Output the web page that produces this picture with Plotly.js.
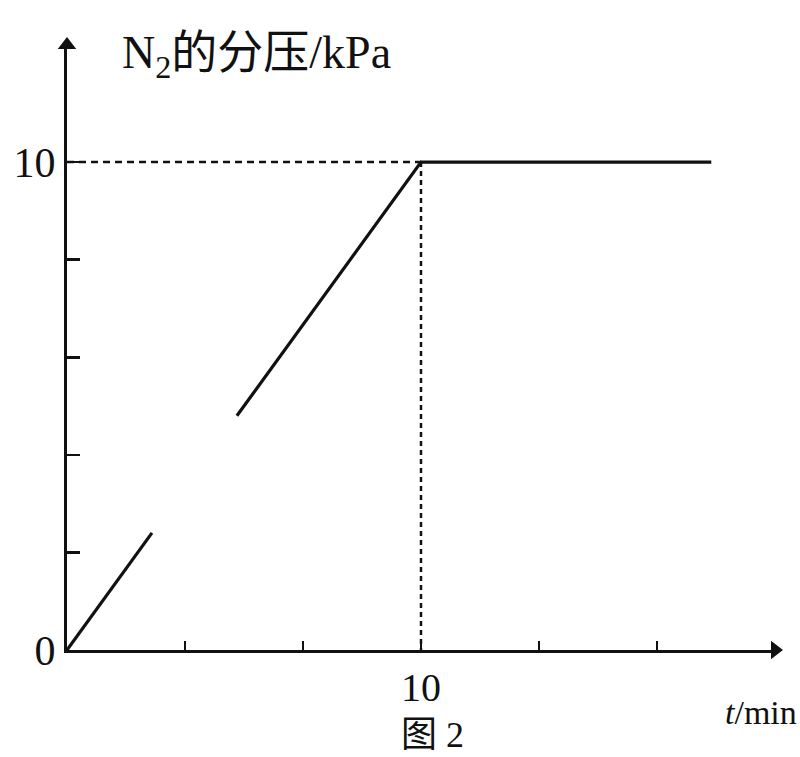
<!DOCTYPE html>
<html>
<head>
<meta charset="utf-8">
<script src="https://cdn.plot.ly/plotly-3.0.1.min.js"></script>
<style>html,body{margin:0;padding:0;background:#fff;}</style>
</head>
<body>
<div id="chart" style="width:800px;height:757px;"></div>
<script>
// Data
const seg1_t = [0, 2.4];
const seg1_p = [0, 2.4];
const seg2_t = [4.8, 10, 18.2];
const seg2_p = [4.8, 10, 10];
const guide_t = 10;
const guide_p = 10;
const x_tickvals = [10];
const x_ticktext = ['10'];
const x_minorvals = [10/3, 20/3, 40/3, 50/3];
const y_tickvals = [0, 10];
const y_ticktext = ['0', '10'];
const y_minorvals = [2, 4, 6, 8];
const x_max = 20;
const y_max = 12.4;

const serif = 'Liberation Serif, Times New Roman, Noto Sans CJK SC, serif';
const ink = '#111';

const traces = [
  {x: seg1_t, y: seg1_p, mode: 'lines', line: {color: ink, width: 3.2}, hoverinfo: 'skip'},
  {x: seg2_t, y: seg2_p, mode: 'lines', line: {color: ink, width: 3.2}, hoverinfo: 'skip'},
  {x: [0, guide_t], y: [guide_p, guide_p], mode: 'lines', line: {color: ink, width: 2.5, dash: '7px,5px'}, hoverinfo: 'skip'},
  {x: [guide_t, guide_t], y: [guide_p, 0], mode: 'lines', line: {color: ink, width: 2.5, dash: '5px,4px'}, hoverinfo: 'skip'},
  // axis arrowheads at the ends of the axes
  {x: [0, x_max], y: [y_max, 0], mode: 'markers', cliponaxis: false, hoverinfo: 'skip',
   marker: {symbol: ['triangle-up', 'triangle-right'], size: 16, color: ink, line: {width: 0}}}
];

const layout = {
  width: 800, height: 757,
  margin: {l: 67, r: 25, t: 45, b: 107},
  paper_bgcolor: '#fff', plot_bgcolor: '#fff',
  showlegend: false,
  font: {family: serif, color: ink, size: 30},
  xaxis: {
    range: [0, x_max], showgrid: false, zeroline: false,
    showline: true, linecolor: ink, linewidth: 3,
    ticks: 'inside', ticklen: 9, tickwidth: 2.5, tickcolor: ink,
    tickmode: 'array', tickvals: x_tickvals, ticktext: x_ticktext,
    minor: {tickmode: 'array', tickvals: x_minorvals, ticks: 'inside', ticklen: 9, tickwidth: 2.5, tickcolor: ink, showgrid: false},
    tickfont: {family: serif, size: 40, color: ink}
  },
  yaxis: {
    range: [0, y_max], showgrid: false, zeroline: false,
    showline: true, linecolor: ink, linewidth: 3,
    ticks: 'inside', ticklen: 13, tickwidth: 2.5, tickcolor: ink,
    tickmode: 'array', tickvals: y_tickvals, ticktext: y_ticktext,
    minor: {tickmode: 'array', tickvals: y_minorvals, ticks: 'inside', ticklen: 13, tickwidth: 2.5, tickcolor: ink, showgrid: false},
    tickfont: {family: serif, size: 42, color: ink}
  },
  annotations: [
    {x: 120, y: 56, xref: 'paper', yref: 'paper', text: 'N<sub>2</sub>的分压/kPa',
     showarrow: false, xanchor: 'left', yanchor: 'middle',
     font: {family: serif, size: 46, color: ink}},
    {x: 799, y: 712, xref: 'paper', yref: 'paper', text: '<i>t</i>/min',
     showarrow: false, xanchor: 'right', yanchor: 'middle',
     font: {family: serif, size: 34, color: ink}},
    {x: 432, y: 735, xref: 'paper', yref: 'paper', text: '图 2',
     showarrow: false, xanchor: 'center', yanchor: 'middle',
     font: {family: serif, size: 36, color: ink}}
  ]
};

// Convert pixel-positioned annotations to paper coordinates
const L = layout.margin.l, R = layout.margin.r, T = layout.margin.t, B = layout.margin.b;
const pw = 800 - L - R, ph = 757 - T - B;
layout.annotations.forEach(a => {
  if (a.xref === 'paper') {
    a.x = (a.x - L) / pw;
    a.y = (757 - B - a.y) / ph;
  }
});

Plotly.newPlot('chart', traces, layout, {displayModeBar: false, staticPlot: true});
</script>
</body>
</html>
